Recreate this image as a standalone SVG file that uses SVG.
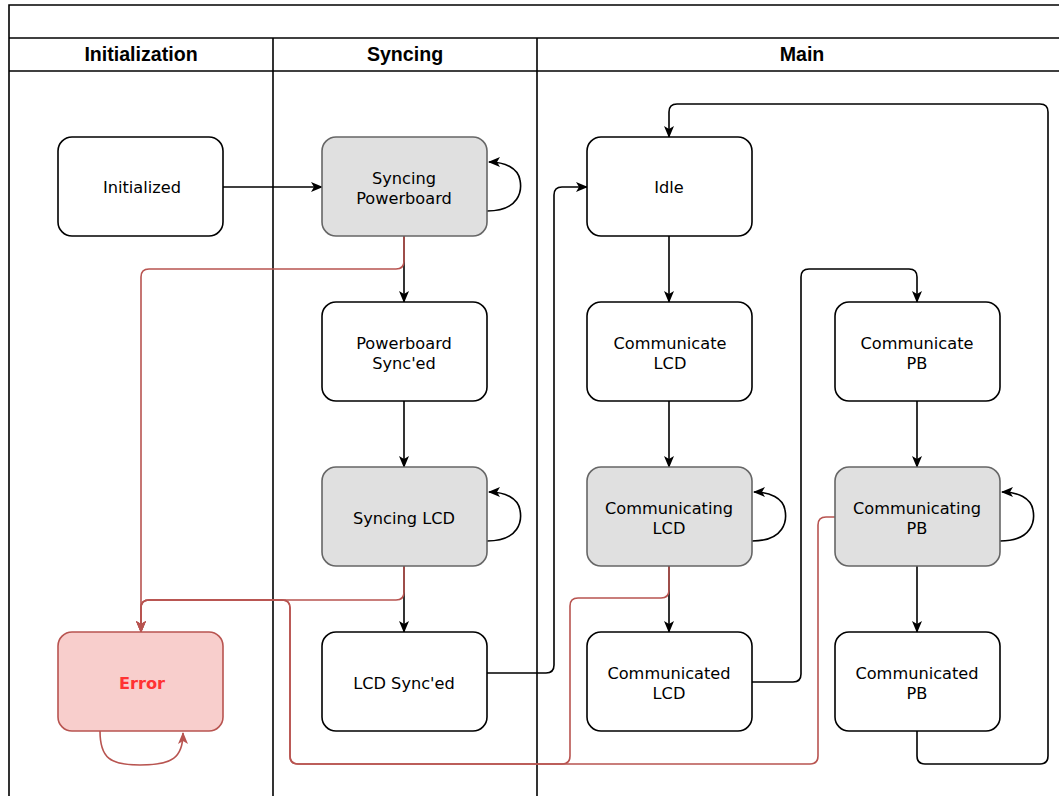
<svg xmlns="http://www.w3.org/2000/svg" width="1059" height="796" viewBox="0 0 1059 796">
<style>
.lane{fill:none;stroke:#000;stroke-width:1.6}
.hdr{font-family:"Liberation Sans",Arial,sans-serif;font-weight:bold;font-size:19.6px;fill:#000;text-anchor:middle}
.n rect{fill:#fff;stroke:#000;stroke-width:1.6}
.g rect{fill:#e0e0e0;stroke:#666;stroke-width:1.6}
.e rect{fill:#f8cecc;stroke:#b85450;stroke-width:1.6}
.t{font-family:"DejaVu Sans",Verdana,sans-serif;font-size:16.2px;fill:#000;text-anchor:middle}
.et{font-family:"DejaVu Sans",Verdana,sans-serif;font-size:16.2px;font-weight:bold;fill:#ff3333;text-anchor:middle}
.c{fill:none;stroke:#000;stroke-width:1.6}
.r{fill:none;stroke:#b85450;stroke-width:1.6}
</style>
<defs>
<marker id="a" viewBox="0 0 12 10" refX="11" refY="5" markerWidth="12" markerHeight="10" markerUnits="userSpaceOnUse" orient="auto"><path d="M0,0 L12,5 L0,10 L3,5 Z" fill="#000"/></marker>
<marker id="ar" viewBox="0 0 12 10" refX="11" refY="5" markerWidth="12" markerHeight="10" markerUnits="userSpaceOnUse" orient="auto"><path d="M0,0 L12,5 L0,10 L3,5 Z" fill="#b85450"/></marker>
</defs>
<rect width="1059" height="796" fill="#fff"/>
<g id="pool">
<path class="lane" d="M1070,5 L9,5 L9,800"/>
<line class="lane" x1="9" y1="38" x2="1070" y2="38"/>
<line class="lane" x1="9" y1="71" x2="1070" y2="71"/>
<line class="lane" x1="273" y1="38" x2="273" y2="800"/>
<line class="lane" x1="537" y1="38" x2="537" y2="800"/>
<text class="hdr" x="141" y="61">Initialization</text>
<text class="hdr" x="405" y="61">Syncing</text>
<text class="hdr" x="802" y="61">Main</text>
</g>
<g id="connectors">
<path class="c" d="M223,187 L322,187" marker-end="url(#a)"/>
<path class="c" d="M487,211 C520,211 522,190 520,180 C518,168 505,162 489,162" marker-end="url(#a)"/>
<path class="c" d="M404,236 L404,302" marker-end="url(#a)"/>
<path class="c" d="M404,401 L404,467" marker-end="url(#a)"/>
<path class="c" d="M487,541 C520,541 522,520 520,510 C518,498 505,492 489,492" marker-end="url(#a)"/>
<path class="c" d="M404,566 L404,632" marker-end="url(#a)"/>
<path class="c" d="M487,673 L546,673 Q554,673 554,665 L554,195 Q554,187 562,187 L587,187" marker-end="url(#a)"/>
<path class="c" d="M669,236 L669,302" marker-end="url(#a)"/>
<path class="c" d="M669,401 L669,467" marker-end="url(#a)"/>
<path class="c" d="M752,541 C785,541 787,520 785,510 C783,498 770,492 754,492" marker-end="url(#a)"/>
<path class="c" d="M669,566 L669,632" marker-end="url(#a)"/>
<path class="c" d="M752,682 L793,682 Q801,682 801,674 L801,277 Q801,269 809,269 L909,269 Q917,269 917,277 L917,302" marker-end="url(#a)"/>
<path class="c" d="M917,401 L917,467" marker-end="url(#a)"/>
<path class="c" d="M1000,541 C1033,541 1035,520 1033,510 C1031,498 1018,492 1002,492" marker-end="url(#a)"/>
<path class="c" d="M917,566 L917,632" marker-end="url(#a)"/>
<path class="c" d="M917,731 L917,756 Q917,764 925,764 L1040,764 Q1048,764 1048,756 L1048,112 Q1048,104 1040,104 L677,104 Q669,104 669,112 L669,137" marker-end="url(#a)"/>
<path class="r" d="M404,236 L404,261 Q404,269 396,269 L149,269 Q141,269 141,277 L141,632" marker-end="url(#ar)"/>
<path class="r" d="M404,566 L404,592 Q404,600 396,600 L149,600 Q141,600 141,608 L141,632" marker-end="url(#ar)"/>
<path class="r" d="M669,566 L669,590 Q669,598 661,598 L578,598 Q570,598 570,606 L570,756 Q570,764 562,764 L298,764 Q290,764 290,756 L290,608 Q290,600 282,600 L149,600 Q141,600 141,608 L141,632" marker-end="url(#ar)"/>
<path class="r" d="M835,517 L826,517 Q818,517 818,525 L818,756 Q818,764 810,764 L298,764 Q290,764 290,756 L290,608 Q290,600 282,600 L149,600 Q141,600 141,608 L141,632" marker-end="url(#ar)"/>
<path class="r" d="M100,731 C100,758 110,765 140,765 C172,765 183,758 183,733" marker-end="url(#ar)"/>
</g>
<g id="initialized" class="n"><rect x="58" y="137" width="165" height="99" rx="14"/><text class="t" x="142" y="193">Initialized</text></g>
<g id="syncing-powerboard" class="g"><rect x="322" y="137" width="165" height="99" rx="14"/><text class="t" x="404" y="184">Syncing</text><text class="t" x="404" y="204">Powerboard</text></g>
<g id="powerboard-synced" class="n"><rect x="322" y="302" width="165" height="99" rx="14"/><text class="t" x="404" y="349">Powerboard</text><text class="t" x="404" y="369">Sync'ed</text></g>
<g id="syncing-lcd" class="g"><rect x="322" y="467" width="165" height="99" rx="14"/><text class="t" x="404" y="524">Syncing LCD</text></g>
<g id="lcd-synced" class="n"><rect x="322" y="632" width="165" height="99" rx="14"/><text class="t" x="404" y="689">LCD Sync'ed</text></g>
<g id="error" class="e"><rect x="58" y="632" width="165" height="99" rx="14"/><text class="et" x="142" y="689">Error</text></g>
<g id="idle" class="n"><rect x="587" y="137" width="165" height="99" rx="14"/><text class="t" x="669" y="193">Idle</text></g>
<g id="communicate-lcd" class="n"><rect x="587" y="302" width="165" height="99" rx="14"/><text class="t" x="670" y="349">Communicate</text><text class="t" x="670" y="369">LCD</text></g>
<g id="communicating-lcd" class="g"><rect x="587" y="467" width="165" height="99" rx="14"/><text class="t" x="669" y="514">Communicating</text><text class="t" x="669" y="534">LCD</text></g>
<g id="communicated-lcd" class="n"><rect x="587" y="632" width="165" height="99" rx="14"/><text class="t" x="669" y="679">Communicated</text><text class="t" x="669" y="699">LCD</text></g>
<g id="communicate-pb" class="n"><rect x="835" y="302" width="165" height="99" rx="14"/><text class="t" x="917" y="349">Communicate</text><text class="t" x="917" y="369">PB</text></g>
<g id="communicating-pb" class="g"><rect x="835" y="467" width="165" height="99" rx="14"/><text class="t" x="917" y="514">Communicating</text><text class="t" x="917" y="534">PB</text></g>
<g id="communicated-pb" class="n"><rect x="835" y="632" width="165" height="99" rx="14"/><text class="t" x="917" y="679">Communicated</text><text class="t" x="917" y="699">PB</text></g>
</svg>
